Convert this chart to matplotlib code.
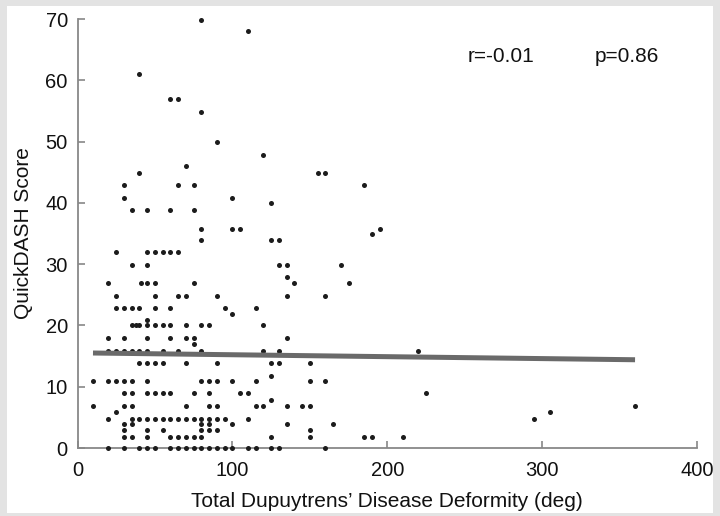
import matplotlib
matplotlib.use("Agg")
import matplotlib.pyplot as plt
from matplotlib.patches import Rectangle

# QuickDASH score levels (y) and the deformity values (x, deg) found at each level
score_levels = [0, 1.8, 2.9, 3.9, 4.8, 5.8, 6.9, 7.9, 8.9, 11.0, 11.8, 13.9, 15.9,
                16.9, 17.9, 20.0, 20.9, 21.9, 22.9, 24.8, 26.9, 27.9, 29.9, 31.9,
                33.9, 34.9, 35.8, 38.8, 39.9, 40.8, 42.9, 44.9, 46.0, 47.8, 49.9,
                54.9, 56.9, 61.0, 68.0, 69.9]
deformity_by_level = [
    [20, 30, 40, 45, 50, 60, 65, 70, 75, 80, 85, 90, 95, 100, 110, 115, 125, 130, 160],
    [30, 35, 45, 60, 65, 70, 75, 80, 125, 150, 185, 190, 210],
    [30, 45, 55, 80, 85, 90, 150],
    [30, 35, 80, 85, 100, 135, 165],
    [20, 35, 40, 45, 50, 55, 60, 65, 70, 75, 80, 85, 90, 95, 110, 295],
    [25, 305],
    [10, 30, 35, 70, 85, 90, 115, 120, 135, 145, 150, 360],
    [125],
    [30, 35, 45, 50, 55, 60, 75, 85, 105, 110, 225],
    [10, 20, 25, 30, 35, 45, 80, 85, 90, 100, 115, 150, 160],
    [125],
    [40, 45, 50, 55, 70, 90, 125, 130, 150],
    [20, 25, 30, 35, 40, 45, 55, 65, 80, 120, 130, 220],
    [75],
    [20, 30, 45, 60, 70, 75, 135],
    [35, 37.5, 40, 45, 50, 55, 60, 70, 80, 85, 120],
    [45],
    [100],
    [25, 30, 35, 40, 50, 60, 95, 115],
    [25, 50, 65, 70, 90, 135, 160],
    [20, 41, 45, 50, 75, 140, 175],
    [135],
    [35, 45, 130, 135, 170],
    [25, 45, 50, 55, 60, 65],
    [80, 125, 130],
    [190],
    [80, 100, 105, 195],
    [35, 45, 60, 75],
    [125],
    [30, 100],
    [30, 65, 75, 185],
    [40, 155, 160],
    [70],
    [120],
    [90],
    [80],
    [60, 65],
    [40],
    [110],
    [80],
]

# regression line as drawn in the figure
fit_x = [10, 360]
fit_y = [15.5, 14.4]

r_label = "r=-0.01"
p_label = "p=0.86"
x_ticks = [0, 100, 200, 300, 400]
y_ticks = [0, 10, 20, 30, 40, 50, 60, 70]

deformity = []
score = []
for level, xs in zip(score_levels, deformity_by_level):
    for x in xs:
        deformity.append(x)
        score.append(level)

plt.rcParams['font.family'] = ['Liberation Sans', 'DejaVu Sans']

fig = plt.figure(figsize=(7.2, 5.16), dpi=100)
fig.patch.set_facecolor('#e3e3e3')
# white picture area inside the grey frame
fig.add_artist(Rectangle((7 / 720, 3 / 516), 706 / 720, 507 / 516,
                         transform=fig.transFigure, facecolor='white',
                         edgecolor='none', zorder=-10))

ax = fig.add_axes([77.5 / 720, 68 / 516, 619.5 / 720, 429 / 516])
ax.set_zorder(1)
ax.patch.set_alpha(0)

ax.scatter(deformity, score, s=13, c='#1c1c1c', linewidths=0, clip_on=False, zorder=3)
ax.plot(fit_x, fit_y, color='#6a6a6a', lw=3.6, solid_capstyle='butt', zorder=4)

ax.set_xlim(0, 400)
ax.set_ylim(0, 70)
ax.set_xticks(x_ticks)
ax.set_yticks(y_ticks)

for side in ['top', 'right']:
    ax.spines[side].set_visible(False)
for side in ['left', 'bottom']:
    ax.spines[side].set_color('#888888')
    ax.spines[side].set_linewidth(1.3)

ax.tick_params(direction='in', length=5, width=1.2, color='#888888',
               labelsize=14.5, labelcolor='#111111', pad=7)
ax.tick_params(axis='x', pad=9)

ax.set_xlabel("Total Dupuytrens\u2019 Disease Deformity (deg)", fontsize=15,
              color='#111111', labelpad=9)
ax.set_ylabel("QuickDASH Score", fontsize=15, color='#111111', labelpad=9)

ax.text(252, 63, r_label, fontsize=15, color='#111111', va='baseline')
ax.text(334, 63, p_label, fontsize=15, color='#111111', va='baseline')

fig.savefig('out.png', dpi=100)
